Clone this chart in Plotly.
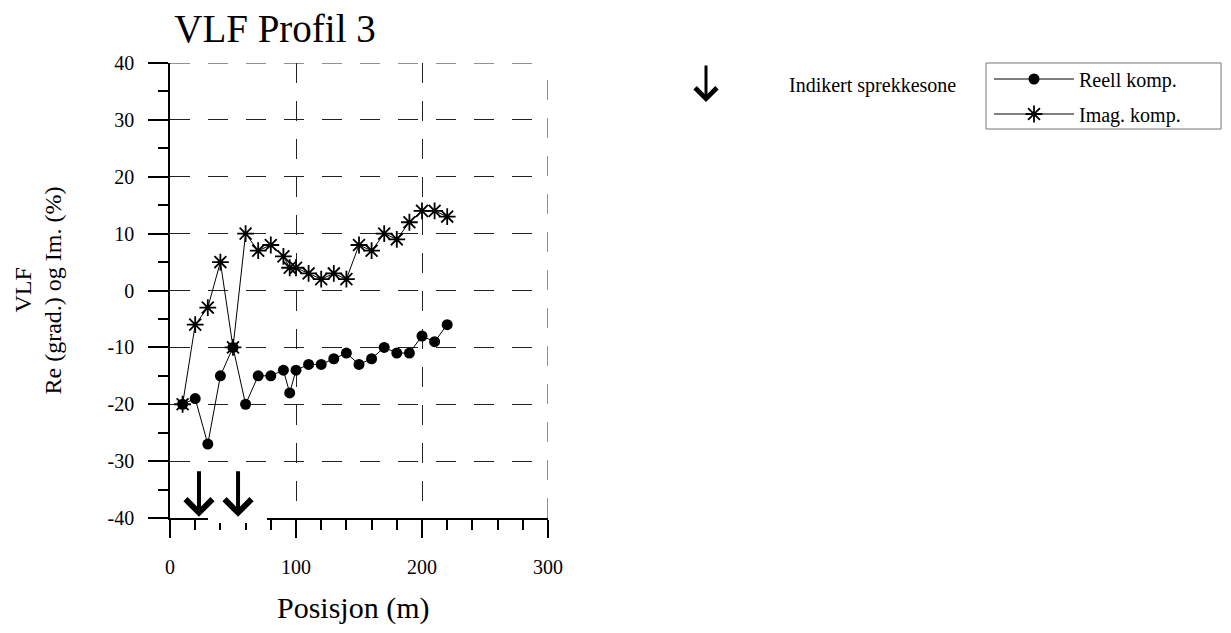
import plotly.graph_objects as go

# ---- data ----
positions = [10, 20, 30, 40, 50, 60, 70, 80, 90, 95, 100, 110, 120, 130, 140,
             150, 160, 170, 180, 190, 200, 210, 220]
reell = [-20, -19, -27, -15, -10, -20, -15, -15, -14, -18, -14, -13, -13, -12, -11,
         -13, -12, -10, -11, -11, -8, -9, -6]
imag = [-20, -6, -3, 5, -10, 10, 7, 8, 6, 4, 4, 3, 2, 3, 2,
        8, 7, 10, 9, 12, 14, 14, 13]
sprekkesoner = [23, 54]          # indicated fracture zones (x positions)
x_ticks = [0, 100, 200, 300]
x_tick_labels = ["0", "100", "200", "300"]
y_ticks = [-40, -30, -20, -10, 0, 10, 20, 30, 40]
y_tick_labels = ["-40", "-30", "-20", "-10", "0", "10", "20", "30", "40"]
x_range = [0, 300]
y_range = [-40, 40]

FONT = "Liberation Serif, Times New Roman, serif"
OFF = 8                      # page body margin
W, H = 1231 - 2 * OFF, 633 - 2 * OFF
PL, PR, PT, PB = 170, 548, 63, 518   # plot area in window pixels
L, T = PL - OFF, PT - OFF
R, B = W - (PR - OFF), H - (PB - OFF)
PW, PH = PR - PL, PB - PT

def px_x(p):
    return (p - PL) / PW

def px_y(p):
    return (PB - p) / PH

fig = go.Figure()
fig.add_trace(go.Scatter(
    x=positions, y=reell, name="Reell komp.", mode="lines+markers",
    line=dict(color="black", width=1),
    marker=dict(symbol="circle", size=11, color="black"),
    legendgroup="a"))
fig.add_trace(go.Scatter(
    x=positions, y=imag, name="Imag. komp.", mode="lines+markers",
    line=dict(color="black", width=1),
    marker=dict(symbol="asterisk-open", size=14, color="black",
                line=dict(color="black", width=1.8)),
    legendgroup="b"))

DASH = "20px,18px"
GRIDC = "#222"
grid = dict(showgrid=True, gridcolor=GRIDC, gridwidth=1, griddash=DASH)

fig.update_xaxes(range=x_range, tickvals=x_ticks, ticktext=x_tick_labels,
                 ticks="outside", ticklen=18,
                 tickwidth=1.5, tickcolor="black", showline=True, linecolor="black",
                 linewidth=1.5, zeroline=False, ticklabelstandoff=12,
                 tickfont=dict(family=FONT, size=20, color="black"),
                 minor=dict(dtick=20, ticks="outside", ticklen=10, tickwidth=1.5,
                            tickcolor="black", showgrid=False),
                 **grid)
fig.update_yaxes(range=y_range, tickvals=y_ticks, ticktext=y_tick_labels,
                 ticks="outside", ticklen=20,
                 tickwidth=1.5, tickcolor="black", showline=True, linecolor="black",
                 linewidth=1.5, zeroline=False, ticklabelstandoff=10,
                 tickfont=dict(family=FONT, size=20, color="black"),
                 minor=dict(dtick=5, ticks="outside", ticklen=10, tickwidth=1.5,
                            tickcolor="black", showgrid=False),
                 **grid)

annotations = []
# axis titles
annotations.append(dict(text="VLF", xref="paper", yref="paper", x=px_x(22), y=0.5,
                        textangle=-90, showarrow=False, xanchor="center", yanchor="middle",
                        font=dict(family=FONT, size=24, color="black")))
annotations.append(dict(text="Re (grad.) og Im. (%)", xref="paper", yref="paper",
                        x=px_x(52), y=0.5, textangle=-90, showarrow=False,
                        xanchor="center", yanchor="middle",
                        font=dict(family=FONT, size=24, color="black")))
annotations.append(dict(text="Posisjon (m)", xref="paper", yref="paper",
                        x=px_x(353), y=px_y(608), showarrow=False,
                        xanchor="center", yanchor="middle",
                        font=dict(family=FONT, size=30, color="black")))
# fracture zone arrows
for xz in sprekkesoner:
    annotations.append(dict(x=xz, y=-39.8, ax=xz, ay=-31.5, xref="x", yref="y",
                            axref="x", ayref="y", text="", showarrow=True,
                            arrowhead=4, arrowsize=1.3, arrowwidth=4,
                            arrowcolor="black"))
# arrow legend
annotations.append(dict(x=px_x(706), y=px_y(102), ax=0, ay=-38, xref="paper",
                        yref="paper", text="", showarrow=True, arrowhead=4,
                        arrowsize=1.4, arrowwidth=3, arrowcolor="black"))
annotations.append(dict(text="Indikert sprekkesone", xref="paper", yref="paper",
                        x=px_x(787), y=px_y(85), showarrow=False,
                        xanchor="left", yanchor="middle",
                        font=dict(family=FONT, size=20, color="black")))

shapes = [
    # gap in the x axis behind the second arrow
    dict(type="rect", xref="paper", yref="paper", x0=px_x(208), x1=px_x(267),
         y0=px_y(523), y1=px_y(510), fillcolor="white", line=dict(width=0),
         layer="above"),
    # edge grid lines (top and right)
    dict(type="line", xref="paper", yref="y", x0=0, x1=1, y0=y_ticks[-1], y1=y_ticks[-1],
         line=dict(color=GRIDC, width=1, dash=DASH), layer="below"),
    dict(type="line", xref="x", yref="paper", x0=x_ticks[-1], x1=x_ticks[-1], y0=0, y1=1,
         line=dict(color=GRIDC, width=1, dash=DASH), layer="below"),
    # legend frame
    dict(type="rect", xref="paper", yref="paper", x0=px_x(986), x1=px_x(1221),
         y0=px_y(129), y1=px_y(63), line=dict(color="#777", width=1),
         fillcolor="rgba(0,0,0,0)", layer="above"),
]

fig.update_layout(
    width=W, height=H,
    margin=dict(l=L, r=R, t=T, b=B),
    paper_bgcolor="white", plot_bgcolor="white",
    title=dict(text="VLF Profil 3", xref="paper", x=px_x(275), xanchor="center",
               yref="container", y=1.0 - 7 / H, yanchor="top", pad=dict(t=0, b=0),
               font=dict(family=FONT, size=39, color="black")),
    showlegend=True,
    legend=dict(x=px_x(989), y=px_y(59.5), xanchor="left", yanchor="top",
                borderwidth=0, bgcolor="rgba(0,0,0,0)",
                font=dict(family=FONT, size=20, color="black"),
                itemwidth=80, tracegroupgap=6),
    annotations=annotations,
    shapes=shapes,
)

fig.write_html("out.html")
